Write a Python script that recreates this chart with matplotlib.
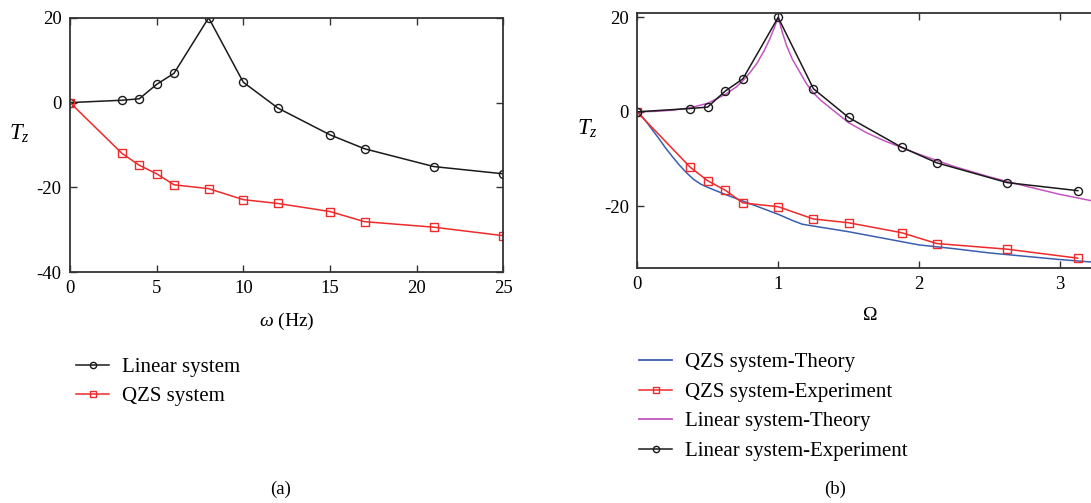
import matplotlib
matplotlib.use("Agg")
import matplotlib.pyplot as plt
from matplotlib.lines import Line2D

plt.rcParams['font.family'] = ['Liberation Serif', 'DejaVu Serif']
plt.rcParams['mathtext.fontset'] = 'custom'
plt.rcParams['mathtext.it'] = 'Liberation Serif:italic'
plt.rcParams['mathtext.rm'] = 'Liberation Serif'
plt.rcParams['axes.unicode_minus'] = False

# ---- panel (a) data ----
freq_hz = [0, 3, 4, 5, 6, 8, 10, 12, 15, 17, 21, 25]
lin_a = [0, 0.55, 0.9, 4.3, 6.9, 20.0, 4.8, -1.3, -7.6, -10.9, -15.1, -16.8]
qzs_a = [0, -12.0, -14.8, -16.8, -19.4, -20.3, -22.9, -23.8, -25.7, -28.1, -29.4, -31.4]

# ---- panel (b) data ----
omega_exp = [0, 0.375, 0.5, 0.625, 0.75, 1.0, 1.25, 1.5, 1.875, 2.125, 2.625, 3.125]
lin_b = [0, 0.7, 1.0, 4.4, 7.0, 20.0, 4.9, -1.2, -7.5, -10.8, -15.0, -16.7]
qzs_b = [0, -11.7, -14.6, -16.6, -19.3, -20.1, -22.7, -23.5, -25.6, -27.9, -29.1, -31.0]

omega_lin_th = [0, 0.125, 0.25, 0.375, 0.5, 0.625, 0.7, 0.75, 0.8, 0.85, 0.9, 0.94,
                0.97, 0.99, 1.0, 1.01, 1.03, 1.06, 1.1, 1.15, 1.2, 1.25, 1.3, 1.375,
                1.5, 1.625, 1.75, 2.0, 2.25, 2.5, 2.75, 3.0, 3.3]
lin_th = [0, 0.1, 0.35, 0.85, 1.8, 3.7, 5.2, 6.6, 8.3, 10.3, 12.9, 15.4,
          17.6, 19.2, 20.0, 19.0, 16.8, 14.0, 11.2, 8.6, 6.0, 4.0, 2.5, 0.7,
          -2.3, -4.4, -6.1, -9.0, -11.6, -13.8, -15.7, -17.5, -19.3]

omega_qzs_th = [0, 0.04, 0.08, 0.12, 0.16, 0.2, 0.25, 0.3, 0.35, 0.4, 0.45, 0.5,
                0.625, 0.75, 0.875, 1.0, 1.1, 1.17, 1.25, 1.5, 1.75, 2.0, 2.25,
                2.5, 2.75, 3.0, 3.3]
qzs_th = [0, -1.2, -2.7, -4.3, -5.9, -7.6, -9.5, -11.3, -12.9, -14.3, -15.3, -16.0,
          -17.5, -18.9, -20.3, -21.7, -23.0, -23.8, -24.2, -25.4, -26.8, -28.2,
          -29.0, -29.9, -30.6, -31.3, -32.0]

BLACK = '#1a1a1a'
RED = '#ee2a2a'
BLUE = '#3a5fb0'
MAGENTA = '#c455c0'
FS = 13.5
LFS = 15

fig = plt.figure(figsize=(10.91, 5.03), dpi=100)

def style(ax):
    ax.tick_params(direction='in', top=True, right=True, labelsize=FS, length=5,
                   width=1.0, pad=6, color='#333333')
    for s in ax.spines.values():
        s.set_linewidth(1.3)
        s.set_color('#333333')

# panel (a)
axa = fig.add_axes([0.0642, 0.459, 0.397, 0.5056])
axa.plot(freq_hz, lin_a, '-o', color=BLACK, lw=1.1, ms=5.8, mfc='none', mew=1.0)
axa.plot(freq_hz, qzs_a, '-s', color=RED, lw=1.1, ms=5.8, mfc='none', mew=1.0)
axa.set_xlim(0, 25)
axa.set_ylim(-40, 20)
axa.set_xticks([0, 5, 10, 15, 20, 25])
axa.set_yticks([-40, -20, 0, 20])
style(axa)
axa.set_xlabel(r'$\omega$ (Hz)', fontsize=14, labelpad=10)
axa.set_ylabel(r'$T_z$', fontsize=FS + 3, rotation=0, labelpad=12.5)

# panel (b)
axb = fig.add_axes([0.584, 0.468, 0.4265, 0.5058])
axb.plot(omega_qzs_th, qzs_th, '-', color=BLUE, lw=1.1)
axb.plot(omega_exp, qzs_b, '-s', color=RED, lw=1.1, ms=5.8, mfc='none', mew=1.0)
axb.plot(omega_lin_th, lin_th, '-', color=MAGENTA, lw=1.1)
axb.plot(omega_exp, lin_b, '-o', color=BLACK, lw=1.1, ms=5.8, mfc='none', mew=1.0)
axb.set_xlim(0, 3.3)
axb.set_ylim(-33, 20.9)
axb.set_xticks([0, 1, 2, 3])
axb.set_yticks([-20, 0, 20])
style(axb)
axb.set_xlabel(r'$\Omega$', fontsize=14, labelpad=10)
axb.set_ylabel(r'$T_z$', fontsize=FS + 3, rotation=0, labelpad=12)

# legends
ha = [Line2D([], [], color=BLACK, marker='o', mfc='none', ms=4.5, lw=1.1),
      Line2D([], [], color=RED, marker='s', mfc='none', ms=4.5, lw=1.1)]
fig.legend(ha, ['Linear system', 'QZS system'], loc='upper left',
           bbox_to_anchor=(0.0525, 0.326), frameon=False, fontsize=LFS,
           handlelength=1.6, labelspacing=0.45, handletextpad=0.6)

hb = [Line2D([], [], color=BLUE, lw=1.3),
      Line2D([], [], color=RED, marker='s', mfc='none', ms=4.5, lw=1.1),
      Line2D([], [], color=MAGENTA, lw=1.3),
      Line2D([], [], color=BLACK, marker='o', mfc='none', ms=4.5, lw=1.1)]
fig.legend(hb, ['QZS system-Theory', 'QZS system-Experiment',
                'Linear system-Theory', 'Linear system-Experiment'],
           loc='upper left', bbox_to_anchor=(0.5685, 0.336), frameon=False,
           fontsize=LFS, handlelength=1.6, labelspacing=0.48, handletextpad=0.6)

fig.text(0.257, 0.018, '(a)', ha='center', fontsize=FS)
fig.text(0.765, 0.018, '(b)', ha='center', fontsize=FS)

fig.savefig('out.png', dpi=100)
